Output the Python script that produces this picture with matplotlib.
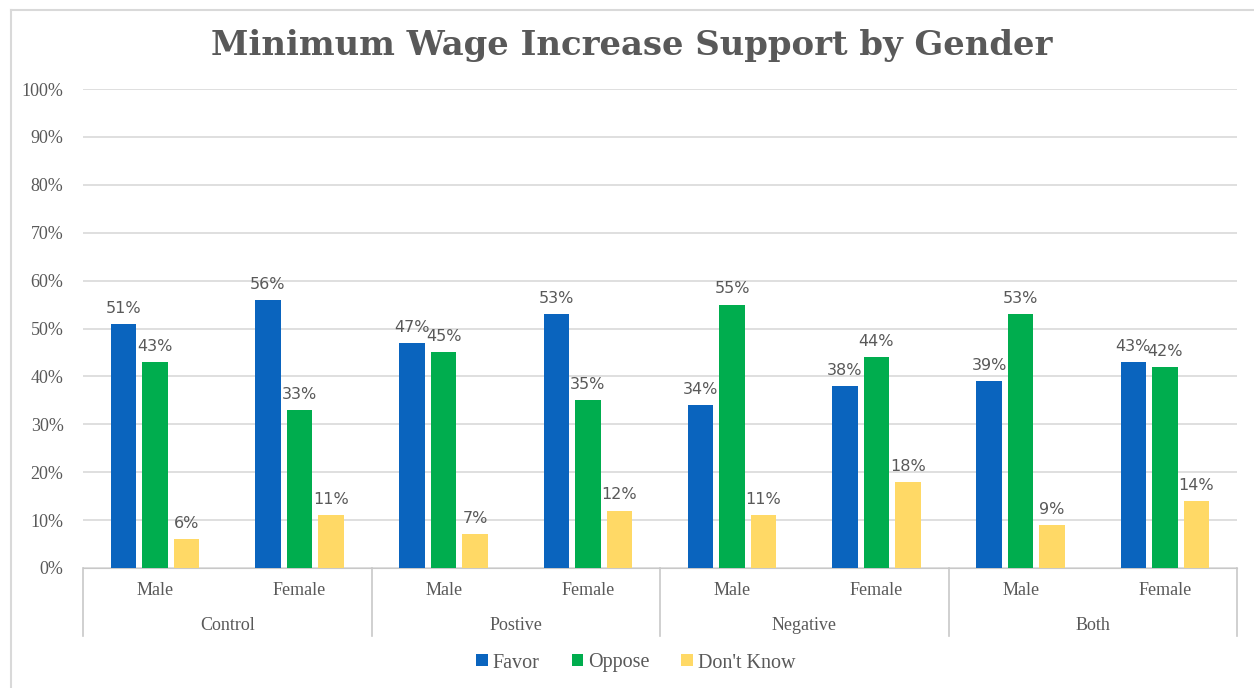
import numpy as np
import matplotlib.pyplot as plt
from matplotlib.lines import Line2D
from matplotlib.patches import Patch

# ---- Data -----------------------------------------------
groups = ['Control', 'Postive', 'Negative', 'Both']
genders = ['Male', 'Female']
series = ['Favor', 'Oppose', "Don't Know"]
favor = [0.51, 0.56, 0.47, 0.53, 0.34, 0.38, 0.39, 0.43]
oppose = [0.43, 0.33, 0.45, 0.35, 0.55, 0.44, 0.53, 0.42]
dont_know = [0.06, 0.11, 0.07, 0.12, 0.11, 0.18, 0.09, 0.14]
yticks = np.arange(0, 1.01, 0.1)

colors = ['#0A64BE', '#00AD4E', '#FFD966']
text_col = '#595959'
grid_col = '#D9D9D9'
serif = ['Liberation Serif', 'DejaVu Serif']

# ---- Figure -----------------------------------------------
fig = plt.figure(figsize=(12.54, 6.88), dpi=100)
W, H = 1254, 688
ax = fig.add_axes([83 / W, 1 - 568 / H, (1237 - 83) / W, (568 - 89) / H])

n_cat = len(groups) * len(genders)
x = np.arange(n_cat)
width = 0.177
step = 0.218
for i, (vals, col) in enumerate(zip([favor, oppose, dont_know], colors)):
    pos = x + (i - 1) * step
    bars = ax.bar(pos, vals, width=width, color=col, label=series[i], zorder=3)
    for b, v in zip(bars, vals):
        ax.text(b.get_x() + b.get_width() / 2, v + 0.017, f'{v:.0%}',
                ha='center', va='bottom', fontsize=11.5, color=text_col,
                family='DejaVu Sans', zorder=4)

ax.set_xlim(-0.5, n_cat - 0.5)
ax.set_ylim(0, 1.0)
ax.set_yticks(yticks)
ax.set_yticklabels([f'{t:.0%}' for t in yticks], family=serif,
                   fontsize=13, color=text_col)
ax.tick_params(axis='y', length=0, pad=14)
ax.set_xticks([])
ax.grid(axis='y', color=grid_col, linewidth=1.2, zorder=0)
for s in ['top', 'right', 'left']:
    ax.spines[s].set_visible(False)
ax.spines['bottom'].set_color('#C8C8C8')

# two-level category axis
trans = ax.get_xaxis_transform()
for k in range(n_cat):
    ax.text(k, -0.048, genders[k % 2], transform=trans, ha='center',
            va='center', fontsize=13, color=text_col, family=serif)
for g, name in enumerate(groups):
    ax.text(2 * g + 0.5, -0.119, name, transform=trans, ha='center',
            va='center', fontsize=13, color=text_col, family=serif)
for b in np.arange(-0.5, n_cat, 2):
    ax.add_line(Line2D([b, b], [0, -0.142], transform=trans, color='#C8C8C8',
                       linewidth=1.2, clip_on=False))

# ---- Title and legend ---------------------------------------
fig.text(0.504, 1 - 45 / H, 'Minimum Wage Increase Support by Gender',
         ha='center', va='center', fontsize=24.4, fontweight='bold',
         color=text_col, family='DejaVu Serif')

handles = [Patch(facecolor=c, label=s) for c, s in zip(colors, series)]
fig.legend(handles=handles, loc='center', bbox_to_anchor=(0.507, 1 - 663 / H),
           ncol=3, frameon=False, handlelength=0.55, handleheight=0.55,
           handletextpad=0.25, columnspacing=1.6,
           prop={'family': serif, 'size': 14.5}, labelcolor=text_col)

# outer chart border (left and top edges shown)
fig.add_artist(Line2D([11 / W, 11 / W], [0, 1 - 10 / H], color='#D9D9D9',
                      linewidth=1.5))
fig.add_artist(Line2D([11 / W, 1], [1 - 10 / H, 1 - 10 / H], color='#D9D9D9',
                      linewidth=1.5))

fig.savefig('out.png', dpi=100, facecolor='white')
